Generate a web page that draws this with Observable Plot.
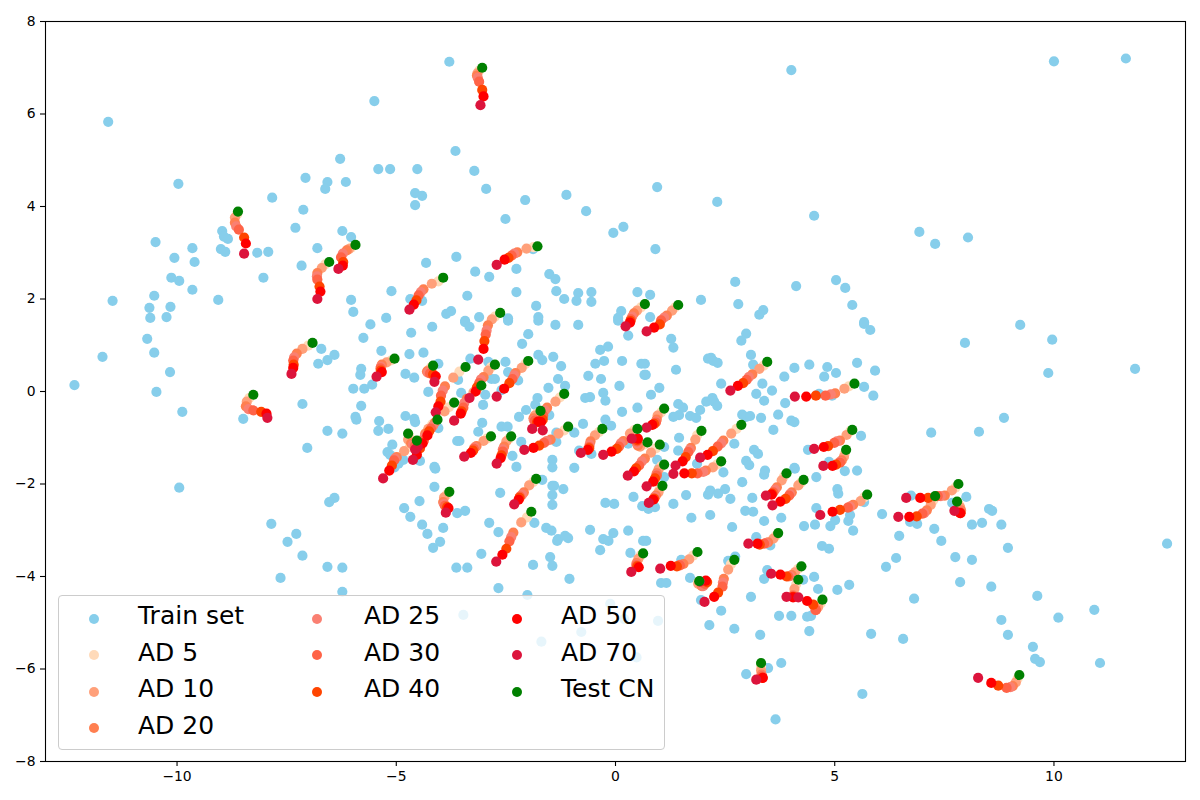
<!DOCTYPE html>
<html>
<head>
<meta charset="utf-8">
<script src="https://cdn.jsdelivr.net/npm/d3@7"></script>
<script src="https://cdn.jsdelivr.net/npm/@observablehq/plot@0.6"></script>
<style>
html,body{margin:0;padding:0;background:#fff}
#wrap{position:relative;width:1200px;height:800px;font-family:"DejaVu Sans",sans-serif}
#legend{position:absolute;left:58px;top:595px;width:605px;height:153px;background:rgba(255,255,255,.8);border:1px solid #ccc;border-radius:4px;}
#legend .k{position:absolute;width:10px;height:10px;border-radius:50%}
#legend .t{position:absolute;font-size:25px;line-height:26px;color:#000;white-space:pre}
</style>
</head>
<body>
<div id="wrap"><div id="chart"></div><div id="legend"></div></div>
<script>
const xTicks=[-10,-5,0,5,10];
const yTicks=[-8,-6,-4,-2,0,2,4,6,8];
const seriesNames=["AD 5","AD 10","AD 20","AD 25","AD 30","AD 40","AD 50","AD 70","Test CN"];
const seriesColors=["#FFDAB9","#FFA07A","#FF7F50","#FA8072","#FF6347","#FF4500","#FF0000","#DC143C","#008000"];
const trainColor="#87CEEB";
// order of values in each trajectory
const trajectoryOrder=["Test CN","AD 5","AD 10","AD 20","AD 25","AD 30","AD 40","AD 50","AD 70"];

const trainSet=[[-11.57,5.83],[-9.97,4.49],[-6.28,5.03],[-7.07,4.62],[-6.57,4.53],[-6.62,4.38],[-7.83,4.19],[-7.12,3.93],[-7.30,3.54],[-6.23,3.47],[-8.97,3.47],[-8.93,3.35],[-8.84,3.30],[-10.49,3.23],[-9.65,3.10],[-9.00,3.08],[-8.90,3.02],[-8.17,3.00],[-7.92,3.02],[-6.80,3.10],[-10.06,2.89],[-9.60,2.80],[-7.16,2.72],[-10.13,2.46],[-9.95,2.39],[-8.03,2.46],[-9.65,2.20],[-10.52,2.07],[-11.47,1.96],[-9.06,1.98],[-10.63,1.81],[-10.15,1.83],[-10.61,1.59],[-10.24,1.61],[-6.15,4.53],
[-10.68,1.14],[-11.70,0.75],[-10.52,0.84],[-10.16,0.42],[-12.34,0.14],[-10.47,-0.01],[-9.88,-0.44],[-9.95,-2.08],[-8.49,-0.59],[-7.14,-0.27],[-6.71,0.92],[-6.41,0.79],[-6.57,0.68],[-6.78,0.60],[-6.57,-0.85],[-6.23,-0.91],[-7.03,-1.22],[-6.41,-2.30],[-6.53,-2.39],[-7.85,-2.86],[-7.28,-3.08],[-7.48,-3.25],[-7.14,-3.55],[-6.57,-3.79],[-6.23,-3.81],[-7.64,-4.03],[-6.23,-4.33],
[-3.79,7.13],[-5.50,6.28],[-3.65,5.20],[-5.41,4.81],[-5.14,4.81],[-4.52,4.81],[-3.22,4.77],[-2.95,4.38],[-4.57,4.29],[-4.41,4.23],[-4.57,4.03],[-2.06,4.14],[-1.12,4.25],[-0.67,3.90],[-2.51,3.73],[-0.05,3.43],[0.18,3.56],[-6.03,3.34],[-4.32,2.78],[-3.63,2.91],[-3.20,2.59],[-2.88,2.48],[-2.26,2.65],[-1.88,3.08],[-1.51,2.54],[-1.37,2.43],[-5.11,2.17],[-2.26,2.15],[-3.38,2.07],[-1.35,2.17],[-0.85,2.13],[-0.55,2.15],[0.50,2.15],[-1.17,2.00],[-0.89,1.96],[-0.55,1.94],[-6.03,1.98],[-4.68,2.00],[-4.41,1.96],[-5.98,1.72],[-3.86,1.68],[-3.75,1.74],[-1.81,1.85],[0.13,1.74],[0.06,1.59],[-5.23,1.59],[-3.43,1.53],[-3.11,1.61],[-2.45,1.58],[-1.76,1.61],
[4.01,6.95],[0.95,4.42],[2.32,4.10],[4.53,3.80],[6.93,3.45],[7.29,3.19],[0.91,3.08],[2.73,2.37],[5.03,2.41],[5.24,2.24],[4.12,2.28],[5.40,1.87],[0.79,2.09],[1.95,1.98],[2.80,1.89],[3.37,1.76],[3.28,1.66],[0.79,1.61],[5.67,1.50],[10.00,7.14],[11.64,7.20],[8.04,3.33],
[2.98,1.25],[2.87,1.10],[1.27,1.14],[1.32,0.95],[3.09,0.79],[3.14,0.58],[2.11,0.71],[2.18,0.73],[2.23,0.66],[2.33,0.62],[1.38,0.47],[0.67,0.60],[0.69,0.36],[2.41,0.17],[3.35,0.17],[3.85,0.32],[4.08,0.51],[3.57,0.02],[3.21,-0.05],[3.39,-0.20],[3.87,-0.25],[1.00,0.08],[0.81,-0.07],[1.43,-0.27],[1.54,-0.35],[1.45,-0.51],[1.32,-0.55],[1.70,-0.53],[1.84,-0.57],[1.93,-0.40],[2.07,-0.22],[2.21,-0.14],[2.25,-0.22],[2.32,-0.31],[2.89,-0.50],[2.98,-0.55],[3.07,-0.53],[3.32,-0.57],[3.71,-0.50],[4.01,-0.63],[4.08,-0.66],[3.60,-0.83],[1.45,-1.00],[1.43,-1.28],[2.71,-1.13],[3.16,-1.26],[3.25,-1.35],[2.98,-1.50],[3.05,-1.59],[0.95,-1.48],[1.86,-1.56],[1.11,-1.20],[4.08,-1.65],[3.41,-1.71],[0.99,-1.67],
[5.67,1.46],[5.81,1.33],[7.20,-0.89],[4.42,0.58],[4.83,0.53],[5.51,0.62],[5.92,0.45],[4.76,0.32],[5.03,0.40],[5.67,0.10],[5.88,-0.09],[4.64,-0.05],[4.94,-0.09],[5.60,-0.96],[4.39,-1.26],[4.87,-1.52],[4.09,-1.67],[5.51,-1.71],[5.23,-1.72],
[9.23,1.44],[9.96,1.12],[7.97,1.05],[9.87,0.40],[11.85,0.49],[8.86,-0.57],[8.29,-0.87],[8.00,-2.28],[6.74,-2.25],[7.68,-2.41],[5.67,-2.39],[8.52,-2.54],[8.59,-2.58],[6.08,-2.65],[5.35,-2.67],[5.31,-2.80],[6.72,-2.82],[6.88,-2.86],[8.13,-2.88],[8.36,-2.84],[8.80,-2.88],[5.42,-3.01],[7.27,-2.97],[6.47,-3.12],[7.43,-3.23],[6.40,-3.60],[6.17,-3.79],[7.75,-3.58],[8.13,-3.64],[8.95,-3.38],[12.58,-3.29],[5.33,-4.18],[7.86,-4.12],[8.57,-4.22],[6.81,-4.48],[9.62,-4.42],[10.92,-4.72],[10.10,-4.89],[8.80,-4.94],[8.95,-5.26],[5.83,-5.24],[6.56,-5.35],[9.52,-5.52],[9.57,-5.78],[9.68,-5.85],[11.05,-5.87],[5.63,-6.54],
[2.46,-1.75],[3.39,-1.80],[2.89,-1.96],[4.58,-1.85],[5.06,-2.11],[5.08,-2.21],[1.61,-2.24],[2.11,-2.23],[2.16,-2.14],[2.34,-2.21],[2.50,-2.11],[2.62,-2.32],[3.12,-2.30],[1.32,-2.43],[0.90,-2.50],[0.75,-2.54],[1.11,-1.85],[2.96,-2.58],[3.14,-2.60],[2.16,-2.67],[1.73,-2.73],[3.39,-2.80],[3.78,-2.73],[4.58,-2.52],[5.01,-2.78],[4.90,-2.91],[4.55,-2.88],[4.30,-2.91],[2.66,-2.93],[0.70,-3.23],[4.71,-3.34],[4.87,-3.40],[3.21,-3.15],[3.53,-3.33],[5.06,-4.29],[4.62,-4.27],[4.53,-4.01],[3.46,-3.86],[3.39,-4.05],[4.28,-4.07],[3.09,-4.44],[1.70,-4.03],[1.50,-3.64],[2.57,-3.66],[2.73,-3.57],[1.04,-4.14],[1.16,-4.14],[1.95,-4.51],[2.41,-4.74],[2.14,-5.05],[2.71,-5.13],[3.30,-5.26],[3.73,-4.85],[4.01,-4.85],[4.37,-4.87],[4.46,-4.85],[4.42,-5.18],[3.78,-5.87],[2.98,-6.11],[3.48,-5.98],[0.97,-4.96],[3.65,-7.09],
[-4.13,-2.06],[-2.63,-2.19],[-4.47,-2.37],[-4.82,-2.52],[-4.68,-2.71],[-3.61,-2.63],[-3.43,-2.58],[-4.41,-2.88],[-4.29,-3.08],[-3.93,-2.95],[-4.00,-3.25],[-4.16,-3.38],[-2.88,-2.84],[-2.67,-3.04],[-1.85,-2.84],[-1.58,-2.95],[-1.46,-3.01],[-1.67,-1.91],[-1.44,-2.04],[-1.40,-2.04],[-1.44,-2.24],[-1.19,-2.11],[-1.44,-2.45],[-0.23,-2.41],[-0.03,-2.43],[0.41,-2.28],[0.61,-2.48],[-0.58,-2.99],[0.29,-3.01],[-0.05,-3.06],[-0.28,-3.19],[-0.16,-3.23],[-0.35,-3.43],[-1.33,-3.23],[-1.31,-3.19],[-1.15,-3.12],[-1.08,-3.17],[0.34,-3.49],[0.63,-3.23],[-3.06,-3.51],[-1.49,-3.58],[-1.44,-3.77],[-1.88,-3.75],[-1.05,-4.05],[-3.63,-3.81],[-3.38,-3.81],[-2.67,-4.25],[-2.01,-4.40],[-3.47,-4.83],[-1.69,-5.41],[-0.78,-5.20],[-0.12,-4.59],[0.20,-4.92],[0.48,-5.75],
[-5.59,1.45],[-5.75,1.16],[-4.18,1.40],[-4.66,1.27],[-3.43,1.50],[-3.33,1.40],[-5.34,0.88],[-4.70,0.81],[-4.38,0.84],[-5.80,0.49],[-5.82,0.36],[-4.79,0.38],[-4.59,0.30],[-4.04,0.60],[-3.31,0.71],[-2.90,0.64],[-3.59,0.25],[-2.83,0.27],[-5.55,0.15],[-5.98,0.06],[-5.73,0.06],[-4.27,-0.01],[-3.52,-0.03],[-2.97,-0.07],[-3.02,-0.29],[-5.80,-0.31],[-5.93,-0.55],[-5.91,-0.61],[-4.79,-0.53],[-4.59,-0.59],[-4.57,-0.66],[-5.39,-0.64],[-5.41,-0.85],[-5.18,-0.81],[-3.04,-0.68],[-3.13,-0.87],[-4.04,-0.79],[-3.61,-1.07],[-3.56,-1.07],[-5.09,-1.15],[-5.20,-1.31],[-5.14,-1.37],[-4.84,-1.48],[-4.95,-1.56],[-5.04,-1.64],[-4.46,-1.50],[-4.13,-1.63],[-4.11,-1.67],
[-2.45,1.53],[-1.76,1.53],[-1.37,1.44],[-0.85,1.44],[0.06,1.53],[0.29,1.21],[-1.99,1.24],[-2.13,1.03],[-0.35,0.90],[-0.17,0.97],[-1.76,0.79],[-1.67,0.68],[-1.42,0.75],[-1.24,0.55],[-2.51,0.64],[-0.46,0.60],[-0.26,0.66],[0.15,0.66],[0.59,0.60],[0.66,0.36],[-2.45,0.42],[-2.22,0.24],[-2.75,0.27],[-0.62,0.34],[-0.33,0.27],[-1.31,0.27],[-1.15,0.12],[-1.53,0.08],[0.09,0.12],[-2.60,0.03],[-0.28,-0.03],[-0.69,-0.14],[-0.58,-0.12],[-0.23,-0.20],[-1.78,-0.14],[-1.83,-0.29],[-2.04,-0.40],[-2.20,-0.55],[-1.51,-0.51],[0.15,-0.44],[0.50,-0.35],[-0.74,-0.70],[-0.23,-0.61],[-0.10,-0.74],[-2.60,-0.76],[-2.46,-0.76],[-0.94,-0.89],[-1.35,-0.89],[-2.15,-1.09],[-1.35,-1.09],[-0.83,-1.28],[-0.55,-1.35],[0.29,-1.13],[-2.35,-1.39],[-1.44,-1.48],[-1.44,-1.64],[-2.26,-1.63],[-0.94,-1.65]];

// one small pair of arrays per test subject: x values, then y values, in trajectoryOrder
const trajectories=[
[[-8.61,-8.63,-8.68,-8.68,-8.65,-8.59,-8.47,-8.43,-8.47],[3.89,3.83,3.76,3.65,3.57,3.50,3.33,3.20,2.98]],
[[-6.53,-6.62,-6.70,-6.80,-6.81,-6.80,-6.75,-6.73,-6.80],[2.80,2.75,2.67,2.56,2.49,2.42,2.27,2.16,2.00]],
[[-5.93,-6.03,-6.08,-6.13,-6.22,-6.26,-6.21,-6.22,-6.32],[3.17,3.11,3.08,3.05,2.98,2.90,2.80,2.72,2.65]],
[[-3.04,-3.11,-3.15,-3.16,-3.14,-3.11,-3.04,-3.01,-3.08],[7.00,6.94,6.88,6.83,6.78,6.70,6.52,6.38,6.19]],
[[-1.78,-1.87,-2.03,-2.24,-2.31,-2.37,-2.44,-2.53,-2.71],[3.14,3.12,3.09,3.01,2.98,2.94,2.89,2.85,2.74]],
[[-3.93,-4.04,-4.19,-4.38,-4.44,-4.49,-4.54,-4.60,-4.70],[2.46,2.38,2.33,2.21,2.15,2.08,1.97,1.88,1.77]],
[[-2.63,-2.75,-2.82,-2.91,-2.94,-2.96,-2.99,-3.01,-3.13],[1.70,1.62,1.56,1.43,1.32,1.23,1.09,0.92,0.69]],
[[0.67,0.58,0.49,0.42,0.38,0.35,0.34,0.33,0.23],[1.89,1.82,1.75,1.69,1.62,1.56,1.52,1.49,1.41]],
[[1.43,1.36,1.29,1.17,1.11,1.04,1.01,0.88,0.71],[1.87,1.82,1.75,1.64,1.60,1.54,1.45,1.38,1.30]],
[[-5.04,-5.12,-5.22,-5.33,-5.35,-5.36,-5.35,-5.33,-5.45],[0.71,0.67,0.63,0.58,0.54,0.50,0.45,0.42,0.32]],
[[-4.16,-4.21,-4.28,-4.30,-4.28,-4.23,-4.16,-4.10,-4.13],[0.56,0.52,0.45,0.43,0.41,0.39,0.37,0.33,0.21]],
[[-3.42,-3.56,-3.70,-3.89,-3.94,-3.98,-3.99,-4.04,-4.10],[0.53,0.43,0.30,0.11,0.02,-0.09,-0.22,-0.32,-0.45]],
[[-2.75,-2.84,-2.90,-3.01,-3.07,-3.11,-3.16,-3.19,-3.33],[0.58,0.52,0.45,0.31,0.26,0.18,0.09,0.00,-0.14]],
[[-3.06,-3.16,-3.24,-3.39,-3.45,-3.47,-3.51,-3.53,-3.68],[0.13,0.04,-0.02,-0.16,-0.25,-0.35,-0.43,-0.48,-0.63]],
[[-3.68,-3.80,-3.90,-4.12,-4.16,-4.21,-4.25,-4.29,-4.51],[-0.24,-0.34,-0.43,-0.67,-0.74,-0.80,-0.86,-0.95,-1.20]],
[[-4.06,-4.18,-4.27,-4.34,-4.36,-4.37,-4.46,-4.53,-4.62],[-0.61,-0.71,-0.81,-0.91,-0.99,-1.06,-1.23,-1.37,-1.48]],
[[-4.53,-4.69,-4.82,-4.99,-5.03,-5.05,-5.10,-5.16,-5.30],[-1.06,-1.19,-1.29,-1.42,-1.45,-1.49,-1.60,-1.71,-1.88]],
[[-4.73,-4.71,-4.73,-4.66,-4.62,-4.57,-4.50,-4.40,-4.57],[-0.91,-0.97,-1.04,-1.12,-1.15,-1.17,-1.14,-1.12,-1.25]],
[[-2.84,-2.93,-3.01,-3.17,-3.21,-3.23,-3.25,-3.30,-3.45],[-0.97,-1.02,-1.07,-1.18,-1.21,-1.24,-1.28,-1.33,-1.41]],
[[-2.38,-2.43,-2.49,-2.54,-2.57,-2.57,-2.60,-2.62,-2.71],[-0.97,-1.02,-1.08,-1.19,-1.25,-1.30,-1.38,-1.44,-1.56]],
[[-1.99,-2.06,-2.14,-2.28,-2.31,-2.35,-2.42,-2.54,-2.71],[0.66,0.59,0.51,0.40,0.35,0.27,0.18,0.06,-0.11]],
[[-1.17,-1.27,-1.37,-1.56,-1.61,-1.65,-1.66,-1.70,-1.66],[-0.05,-0.13,-0.22,-0.35,-0.41,-0.52,-0.61,-0.66,-0.84]],
[[-1.71,-1.79,-1.84,-1.87,-1.86,-1.84,-1.79,-1.76,-1.90],[-0.42,-0.48,-0.52,-0.58,-0.62,-0.63,-0.66,-0.65,-0.81]],
[[-1.08,-1.17,-1.30,-1.48,-1.57,-1.63,-1.74,-1.87,-2.08],[-0.76,-0.84,-0.91,-1.04,-1.07,-1.11,-1.17,-1.22,-1.26]],
[[-0.30,-0.38,-0.47,-0.57,-0.59,-0.60,-0.60,-0.63,-0.79],[-0.81,-0.88,-0.95,-1.08,-1.15,-1.20,-1.23,-1.26,-1.33]],
[[0.50,0.42,0.33,0.18,0.12,0.08,0.03,-0.09,-0.28],[-0.81,-0.84,-0.91,-1.07,-1.12,-1.19,-1.24,-1.30,-1.37]],
[[0.73,0.65,0.56,0.51,0.49,0.49,0.50,0.51,0.37],[-1.10,-1.15,-1.19,-1.17,-1.12,-1.08,-1.05,-1.02,-1.02]],
[[1.11,1.04,0.96,0.94,0.92,0.92,0.88,0.84,0.71],[-0.37,-0.45,-0.52,-0.61,-0.65,-0.67,-0.70,-0.72,-0.78]],
[[1.01,0.92,0.81,0.67,0.60,0.54,0.47,0.42,0.28],[-1.15,-1.23,-1.32,-1.45,-1.51,-1.60,-1.66,-1.73,-1.82]],
[[1.11,1.04,0.98,0.94,0.94,0.94,0.90,0.86,0.71],[-1.58,-1.62,-1.69,-1.77,-1.79,-1.82,-1.88,-1.95,-2.05]],
[[1.96,1.86,1.82,1.72,1.69,1.66,1.60,1.53,1.37],[-0.85,-0.95,-1.04,-1.22,-1.26,-1.31,-1.42,-1.51,-1.60]],
[[2.87,2.76,2.64,2.46,2.41,2.33,2.22,2.10,1.93],[-0.72,-0.81,-0.91,-1.06,-1.12,-1.19,-1.29,-1.37,-1.43]],
[[3.46,3.38,3.28,3.12,3.04,2.99,2.91,2.79,2.62],[0.64,0.56,0.49,0.37,0.31,0.25,0.18,0.12,0.02]],
[[2.41,2.31,2.22,2.06,2.00,1.87,1.74,1.57,1.32],[-1.51,-1.58,-1.64,-1.71,-1.74,-1.77,-1.77,-1.77,-1.78]],
[[4.29,4.23,4.17,4.02,3.98,3.96,3.88,3.76,3.58],[-1.91,-1.97,-2.03,-2.18,-2.22,-2.25,-2.32,-2.38,-2.46]],
[[3.90,3.84,3.79,3.68,3.64,3.60,3.57,3.56,3.43],[-1.77,-1.84,-1.92,-2.07,-2.12,-2.18,-2.21,-2.23,-2.25]],
[[1.07,1.01,0.98,0.92,0.90,0.88,0.88,0.86,0.76],[-2.04,-2.10,-2.18,-2.25,-2.28,-2.31,-2.32,-2.34,-2.41]],
[[1.87,1.77,1.68,1.55,1.47,1.47,1.40,1.26,1.02],[-3.47,-3.55,-3.63,-3.73,-3.75,-3.76,-3.78,-3.77,-3.83]],
[[2.71,2.63,2.57,2.47,2.45,2.44,2.34,2.25,2.03],[-3.64,-3.74,-3.85,-4.05,-4.13,-4.22,-4.35,-4.44,-4.55]],
[[1.91,1.88,1.89,1.97,2.00,2.04,2.09,2.06,1.93],[-4.10,-4.13,-4.16,-4.21,-4.21,-4.16,-4.12,-4.09,-4.11]],
[[3.71,3.66,3.60,3.48,3.43,3.39,3.29,3.24,3.03],[-3.06,-3.12,-3.18,-3.26,-3.28,-3.29,-3.31,-3.29,-3.29]],
[[4.24,4.16,4.09,4.02,3.98,3.94,3.90,3.76,3.55],[-3.78,-3.84,-3.91,-3.97,-3.99,-4.00,-4.00,-3.96,-3.94]],
[[4.17,4.12,4.08,4.05,4.05,4.05,4.05,4.05,3.90],[-4.07,-4.17,-4.27,-4.41,-4.42,-4.43,-4.44,-4.45,-4.44]],
[[4.72,4.68,4.62,4.57,4.56,4.57,4.51,4.37,4.17],[-4.50,-4.58,-4.66,-4.72,-4.73,-4.72,-4.61,-4.53,-4.45]],
[[3.32,3.32,3.32,3.33,3.34,3.34,3.35,3.36,3.21],[-5.87,-5.95,-6.03,-6.12,-6.14,-6.16,-6.19,-6.19,-6.23]],
[[5.45,5.32,5.22,5.01,4.91,4.79,4.57,4.35,4.09],[0.17,0.11,0.06,-0.04,-0.06,-0.09,-0.09,-0.11,-0.11]],
[[5.40,5.35,5.27,5.12,5.05,4.99,4.85,4.75,4.53],[-0.83,-0.86,-0.94,-1.06,-1.08,-1.11,-1.18,-1.20,-1.24]],
[[5.26,5.23,5.21,5.16,5.12,5.12,5.03,4.95,4.74],[-1.26,-1.34,-1.41,-1.49,-1.52,-1.54,-1.58,-1.61,-1.61]],
[[7.82,7.75,7.67,7.51,7.42,7.35,7.13,6.95,6.63],[-2.00,-2.08,-2.14,-2.25,-2.26,-2.26,-2.30,-2.30,-2.30]],
[[7.29,7.24,7.19,7.10,7.04,7.00,6.87,6.70,6.45],[-2.26,-2.36,-2.45,-2.57,-2.63,-2.64,-2.70,-2.71,-2.71]],
[[7.79,7.83,7.86,7.88,7.87,7.86,7.87,7.86,7.73],[-2.38,-2.44,-2.50,-2.57,-2.59,-2.61,-2.63,-2.63,-2.58]],
[[5.74,5.67,5.59,5.42,5.35,5.30,5.12,4.95,4.67],[-2.23,-2.29,-2.37,-2.45,-2.49,-2.51,-2.56,-2.60,-2.67]],
[[9.21,9.17,9.13,9.06,9.01,8.92,8.73,8.57,8.27],[-6.13,-6.21,-6.29,-6.37,-6.39,-6.41,-6.36,-6.30,-6.19]],
[[-3.79,-3.85,-3.91,-3.93,-3.91,-3.89,-3.84,-3.81,-3.87],[-2.17,-2.23,-2.29,-2.39,-2.43,-2.47,-2.50,-2.52,-2.62]],
[[-1.81,-1.88,-1.97,-2.09,-2.13,-2.18,-2.19,-2.21,-2.31],[-1.89,-1.96,-2.03,-2.18,-2.23,-2.27,-2.30,-2.34,-2.44]],
[[-1.92,-2.02,-2.15,-2.33,-2.38,-2.42,-2.49,-2.58,-2.72],[-2.60,-2.72,-2.83,-3.05,-3.15,-3.24,-3.40,-3.53,-3.68]],
[[0.63,0.57,0.52,0.48,0.48,0.48,0.50,0.53,0.36],[-3.50,-3.55,-3.62,-3.71,-3.74,-3.76,-3.78,-3.80,-3.90]],
[[-6.91,-7.01,-7.14,-7.27,-7.33,-7.35,-7.34,-7.35,-7.39],[1.05,0.99,0.92,0.82,0.74,0.67,0.58,0.51,0.38]],
[[-8.26,-8.35,-8.41,-8.43,-8.37,-8.26,-8.08,-7.96,-7.94],[-0.07,-0.14,-0.22,-0.32,-0.38,-0.41,-0.44,-0.48,-0.57]]
];

const markerR=5.1;
const seriesRows=name=>{
  const j=trajectoryOrder.indexOf(name);
  return trajectories.map(([xs,ys])=>({x:xs[j],y:ys[j]}));
};
const plot=Plot.plot({
  width:1200,height:800,
  marginLeft:45,marginRight:15,marginTop:21,marginBottom:39,
  style:{fontFamily:"'DejaVu Sans',sans-serif",fontSize:"13.9px",background:"#fff",color:"#000"},
  x:{domain:[-13,13],label:null},
  y:{domain:[-8,8],label:null},
  marks:[
    Plot.dot(trainSet,{x:d=>d[0],y:d=>d[1],r:markerR,fill:trainColor}),
    ...seriesNames.map((n,i)=>Plot.dot(seriesRows(n),{x:"x",y:"y",r:markerR,fill:seriesColors[i]})),
    Plot.axisX({ticks:xTicks,tickSize:5,tickPadding:5,label:null,stroke:"#000",strokeWidth:1.1,fontSize:13.9,color:"#000",fill:"#000"}),
    Plot.axisY({ticks:yTicks,tickSize:5,tickPadding:5,label:null,stroke:"#000",strokeWidth:1.1,fontSize:13.9,fill:"#000"}),
    Plot.frame({stroke:"#000",strokeWidth:1.1})
  ]
});
plot.style.display="block";
document.getElementById("chart").appendChild(plot);

const legend=document.getElementById("legend");
const legendItems=[["Train set",trainColor],...seriesNames.map((n,i)=>[n,seriesColors[i]])];
const legendColumns=[4,3,3];
const colKeyLeft=[30,253,453], colTextLeft=[79,305,502], rowTop=[17,53.5,90,126.5];
let idx=0;
legendColumns.forEach((cnt,c)=>{
  for(let r=0;r<cnt;r++,idx++){
    const [name,color]=legendItems[idx];
    const k=document.createElement("div");k.className="k";
    k.style.cssText=`left:${colKeyLeft[c]}px;top:${rowTop[r]+0.5}px;background:${color}`;
    const t=document.createElement("div");t.className="t";t.textContent=name;
    t.style.cssText=`left:${colTextLeft[c]}px;top:${rowTop[r]-10}px`;
    legend.append(k,t);
  }
});
</script>
</body>
</html>
